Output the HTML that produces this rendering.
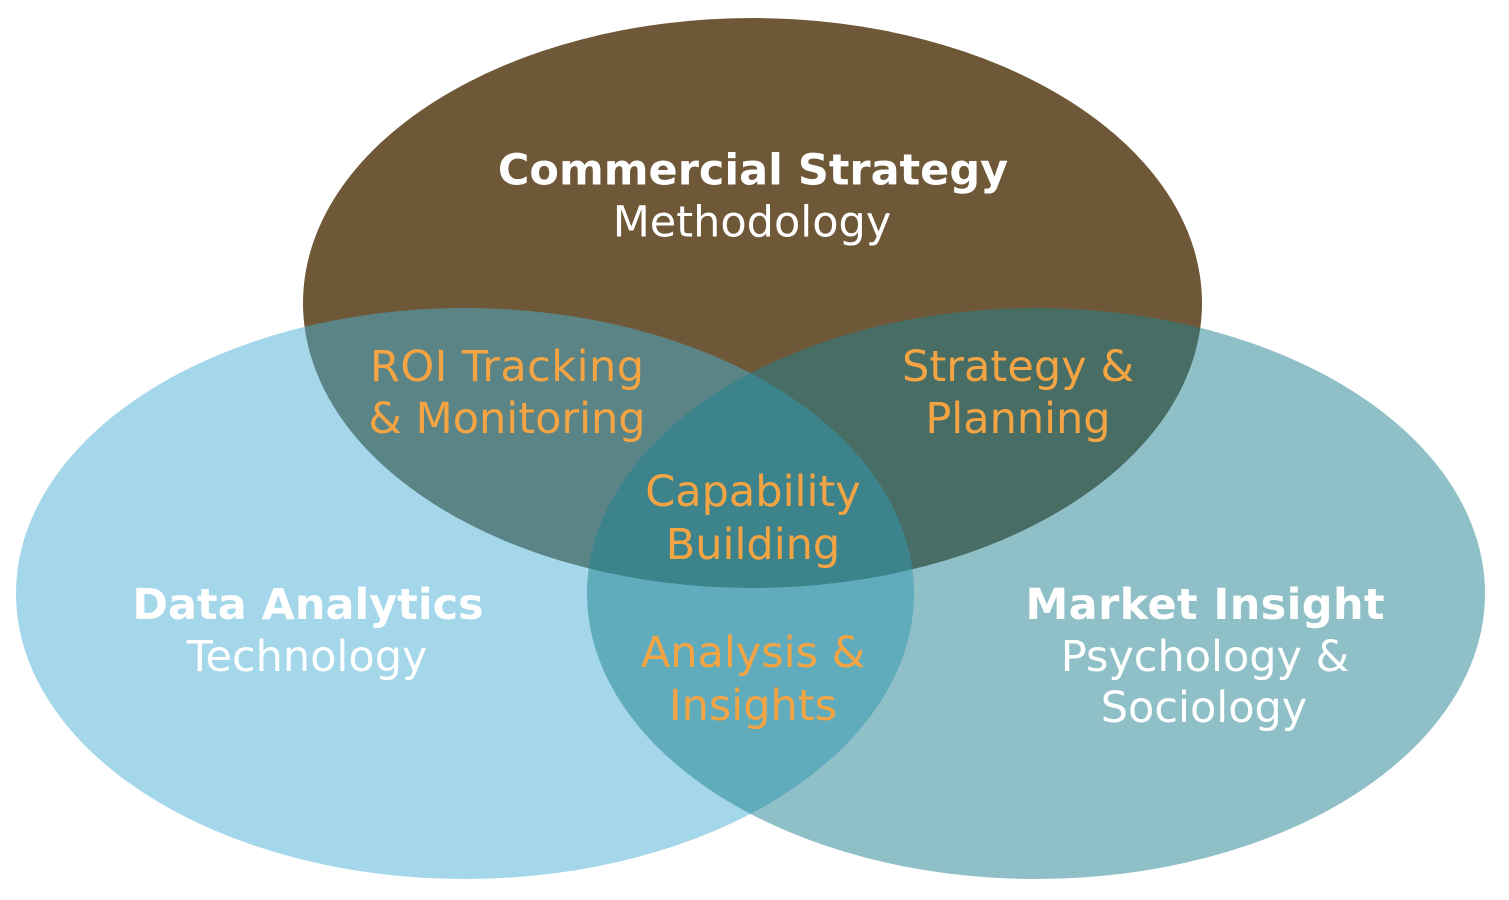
<!DOCTYPE html>
<html>
<head>
<meta charset="utf-8">
<style>
  html, body { margin: 0; padding: 0; background: #ffffff; }
  body { width: 1509px; height: 900px; overflow: hidden; }
  svg { display: block; }
  text { font-family: "DejaVu Sans", "Liberation Sans", sans-serif; font-size: 43px; text-anchor: middle; }
  .b { font-weight: bold; }
  .w { fill: #ffffff; }
  .o { fill: #f5a443; }
</style>
</head>
<body>
<svg width="1509" height="900" viewBox="0 0 1509 900" xmlns="http://www.w3.org/2000/svg">
  <rect width="1509" height="900" fill="#ffffff"/>
  <ellipse cx="752.5" cy="303" rx="449.5" ry="285" fill="#6f5838"/>
  <ellipse cx="465" cy="593.5" rx="449" ry="285.5" fill="#47afd3" fill-opacity="0.5"/>
  <ellipse cx="1036" cy="593.5" rx="449" ry="285.5" fill="#1f818f" fill-opacity="0.5"/>

  <text class="b w" x="753" y="184.5">Commercial Strategy</text>
  <text class="w" x="752" y="236.5">Methodology</text>

  <text class="o" x="507" y="381" textLength="274" lengthAdjust="spacing">ROI Tracking</text>
  <text class="o" x="507" y="433">&amp; Monitoring</text>

  <text class="o" x="1018" y="381" textLength="232" lengthAdjust="spacing">Strategy &amp;</text>
  <text class="o" x="1018" y="433">Planning</text>

  <text class="o" x="753" y="506">Capability</text>
  <text class="o" x="753" y="559">Building</text>

  <text class="o" x="753" y="667">Analysis &amp;</text>
  <text class="o" x="753" y="720">Insights</text>

  <text class="b w" x="308" y="619">Data Analytics</text>
  <text class="w" x="307" y="671">Technology</text>

  <text class="b w" x="1205" y="619" textLength="359" lengthAdjust="spacing">Market Insight</text>
  <text class="w" x="1205" y="671">Psychology &amp;</text>
  <text class="w" x="1204" y="722">Sociology</text>
</svg>
</body>
</html>
